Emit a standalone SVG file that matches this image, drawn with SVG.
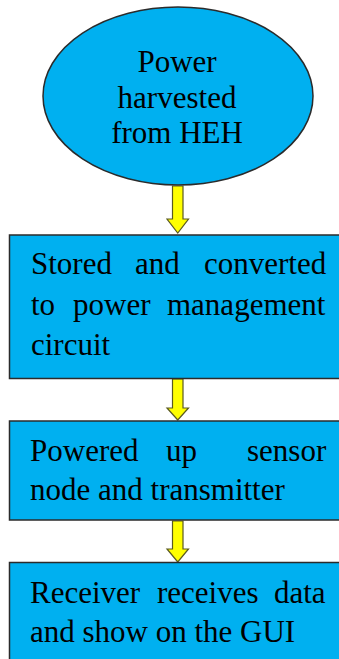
<svg xmlns="http://www.w3.org/2000/svg" width="339" height="659" viewBox="0 0 339 659">
<style>
.shape{fill:#00B0F0;stroke:#2b2b2b;stroke-width:1.5}
.t{font-family:"Liberation Serif","Times New Roman",serif;font-size:31px;fill:#000}
.c{text-anchor:middle}
.arrow{fill:#FFFF00;stroke:#5a5a20;stroke-width:1.2;stroke-linejoin:miter}
</style>
<rect width="339" height="659" fill="#fff"/>
<g id="connectors">
<path class="arrow" d="M172.5,186 L183,186 L183,219 L188.5,219 L177.75,233 L167,219 L172.5,219 Z"/>
<path class="arrow" d="M172.5,379 L183,379 L183,408 L188.5,408 L177.75,420 L167,408 L172.5,408 Z"/>
<path class="arrow" d="M172.5,521 L183,521 L183,549 L188.5,549 L177.75,562 L167,549 L172.5,549 Z"/>
</g>
<g id="n1">
<ellipse class="shape" cx="178" cy="96" rx="135" ry="89"/>
<text class="t c" x="177" y="72">Power</text>
<text class="t c" x="177" y="108">harvested</text>
<text class="t c" x="177" y="143">from HEH</text>
</g>
<g id="n2">
<rect class="shape" x="9.5" y="235" width="340" height="143.5"/>
<text class="t" y="274"><tspan x="31">Stored</tspan><tspan x="135">and</tspan><tspan x="204">converted</tspan></text>
<text class="t" y="315"><tspan x="31">to</tspan><tspan x="73">power</tspan><tspan x="167">management</tspan></text>
<text class="t" x="31" y="355">circuit</text>
</g>
<g id="n3">
<rect class="shape" x="9.5" y="421" width="340" height="99"/>
<text class="t" y="461"><tspan x="30">Powered</tspan><tspan x="166">up</tspan><tspan x="247">sensor</tspan></text>
<text class="t" x="30" y="500">node and transmitter</text>
</g>
<g id="n4">
<rect class="shape" x="9.5" y="562.5" width="340" height="110"/>
<text class="t" y="603"><tspan x="30">Receiver</tspan><tspan x="157">receives</tspan><tspan x="274">data</tspan></text>
<text class="t" x="30" y="642">and show on the GUI</text>
</g>
</svg>
